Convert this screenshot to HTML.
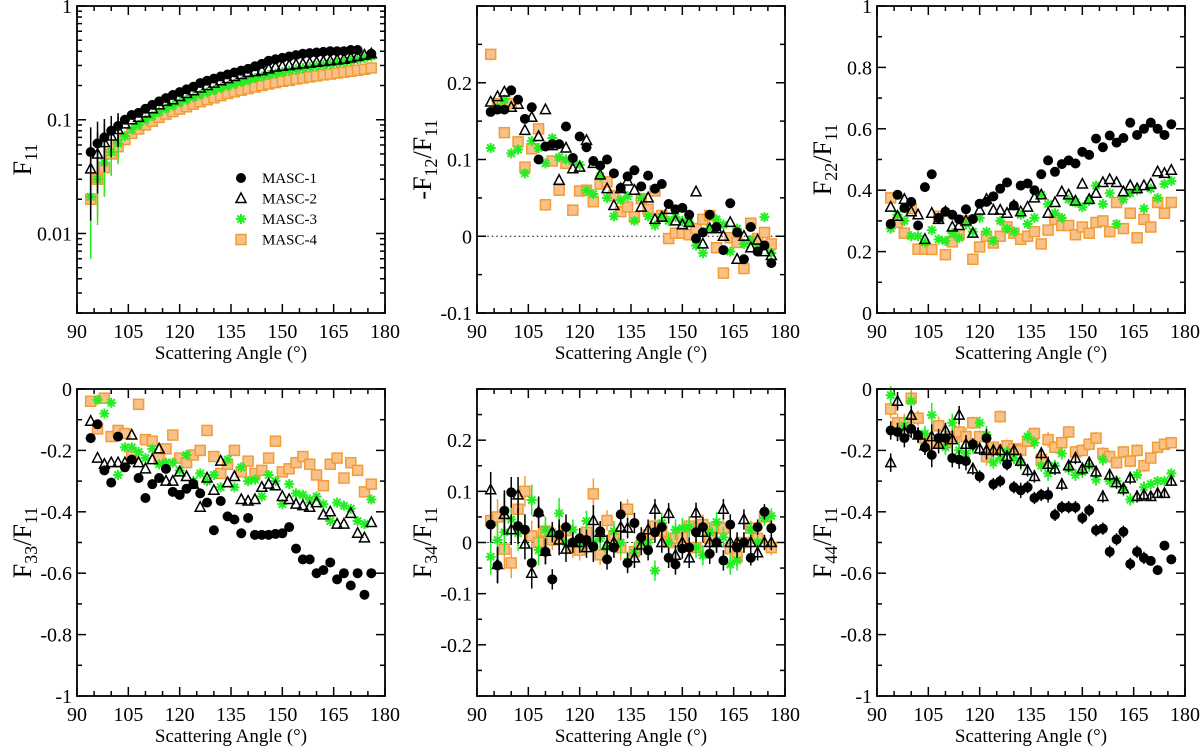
<!DOCTYPE html>
<html><head><meta charset="utf-8"><style>
html,body{margin:0;padding:0;background:#fff;}
svg{display:block;}
text,tspan{font-family:"Liberation Serif","Times New Roman",serif;}
</style></head><body>
<svg id="fig" width="1200" height="747" viewBox="0 0 1200 747" xmlns="http://www.w3.org/2000/svg" font-family="Liberation Serif, serif"></svg>
<script>
const angles=[94,96,98,100,102,104,106,108,110,112,114,116,118,120,122,124,126,128,130,132,134,136,138,140,142,144,146,148,150,152,154,156,158,160,162,164,166,168,170,172,174,176];
const seriesNames=["MASC-1","MASC-2","MASC-3","MASC-4"];
// F11
const f11_m1=[0.052,0.062,0.07,0.08,0.088,0.1,0.11,0.115,0.125,0.135,0.145,0.155,0.165,0.175,0.185,0.195,0.21,0.22,0.23,0.24,0.25,0.26,0.27,0.28,0.295,0.31,0.33,0.34,0.35,0.36,0.37,0.38,0.385,0.39,0.395,0.4,0.4,0.4,0.41,0.41,null,0.38];
const f11_m2=[0.037,0.05,0.063,0.072,0.082,0.092,0.1,0.105,0.115,0.125,0.135,0.145,0.15,0.16,0.17,0.18,0.19,0.2,0.21,0.22,0.23,0.24,0.25,0.26,0.265,0.27,0.28,0.29,0.295,0.3,0.305,0.31,0.315,0.32,0.325,0.33,0.335,0.34,0.35,0.36,0.37,0.38];
const f11_m3=[0.021,0.03,0.042,0.052,0.062,0.072,0.082,0.09,0.1,0.108,0.117,0.125,0.133,0.142,0.15,0.158,0.166,0.174,0.182,0.19,0.198,0.206,0.215,0.223,0.232,0.24,0.248,0.255,0.262,0.27,0.277,0.284,0.29,0.297,0.303,0.31,0.316,0.322,0.33,0.34,0.35,0.36];
const f11_m4=[0.02,0.03,0.038,0.05,0.058,0.067,0.076,0.083,0.09,0.097,0.105,0.112,0.118,0.124,0.13,0.137,0.144,0.15,0.156,0.163,0.17,0.176,0.182,0.188,0.194,0.2,0.206,0.212,0.218,0.222,0.228,0.233,0.238,0.243,0.248,0.252,0.257,0.262,0.267,0.272,0.278,0.285];
// -F12/F11
const f12_m1=[0.162,0.165,0.165,0.19,0.178,0.153,0.168,0.1,0.117,0.12,0.12,0.143,0.102,0.13,0.116,0.098,0.092,0.1,0.082,0.063,0.078,0.086,0.065,0.079,0.062,0.068,0.042,0.035,0.037,0.028,-0.003,0.005,0.028,0.012,-0.018,0.043,0.005,-0.03,0.012,-0.02,-0.012,-0.035];
const f12_m2=[0.175,0.182,0.188,0.168,0.172,0.138,0.155,0.13,0.165,0.118,0.073,0.115,0.088,0.09,0.125,0.095,0.08,0.062,0.04,0.062,0.072,0.06,0.038,0.05,0.022,0.025,0.035,0.02,0.015,0.018,0.058,-0.01,0.01,0.01,0.0,0.018,-0.03,0.0,-0.015,-0.005,-0.02,-0.025];
const f12_m3=[0.115,0.168,0.178,0.108,0.113,0.082,0.124,0.115,0.095,0.128,0.103,0.1,0.098,0.093,0.06,0.055,0.078,0.05,0.026,0.047,0.052,0.02,0.05,0.026,0.014,0.025,0.02,0.025,0.02,0.018,-0.012,-0.022,0.01,0.022,0.015,-0.02,0.01,-0.01,-0.005,-0.015,0.025,-0.022];
const f12_m4=[0.237,0.173,0.135,0.173,0.123,0.09,0.114,0.14,0.041,0.098,0.06,0.095,0.034,0.059,0.06,0.045,0.068,0.071,0.053,0.032,0.038,0.025,0.049,0.035,0.059,0.027,-0.003,0.004,0.004,0.002,0.01,0.022,0.027,-0.015,-0.048,-0.002,-0.008,-0.042,0.017,-0.003,0.005,-0.01];
// F22/F11
const f22_m1=[0.29,0.385,0.342,0.362,0.285,0.41,0.452,0.31,0.33,0.32,0.305,0.338,0.306,0.356,0.362,0.38,0.405,0.425,0.35,0.415,0.422,0.4,0.452,0.497,0.46,0.485,0.497,0.487,0.525,0.515,0.568,0.54,0.578,0.555,0.57,0.62,0.58,0.6,0.62,0.6,0.58,0.615];
const f22_m2=[0.345,0.315,0.37,0.33,0.32,0.24,0.325,0.305,0.33,0.28,0.285,0.3,0.26,0.335,0.37,0.335,0.335,0.325,0.35,0.33,0.345,0.375,0.385,0.325,0.36,0.395,0.385,0.365,0.42,0.37,0.39,0.425,0.435,0.425,0.395,0.415,0.405,0.415,0.42,0.46,0.455,0.465];
const f22_m3=[0.275,0.32,0.3,0.25,0.25,0.23,0.27,0.24,0.235,0.26,0.245,0.29,0.265,0.31,0.265,0.235,0.3,0.275,0.265,0.32,0.29,0.31,0.385,0.355,0.325,0.31,0.37,0.36,0.345,0.365,0.415,0.355,0.39,0.29,0.37,0.39,0.4,0.34,0.405,0.375,0.42,0.43];
const f22_m4=[0.375,0.295,0.26,0.34,0.208,0.208,0.207,0.315,0.19,0.232,0.255,0.3,0.175,0.215,0.25,0.228,0.25,0.28,0.26,0.24,0.25,0.265,0.225,0.27,0.305,0.285,0.285,0.255,0.28,0.26,0.295,0.3,0.265,0.36,0.275,0.325,0.245,0.305,0.28,0.36,0.325,0.36];
// F33/F11
const f33_m1=[-0.16,-0.115,-0.265,-0.305,-0.155,-0.255,-0.23,-0.29,-0.355,-0.31,-0.29,-0.26,-0.335,-0.345,-0.325,-0.31,-0.34,-0.37,-0.46,-0.365,-0.415,-0.425,-0.47,-0.42,-0.475,-0.475,-0.475,-0.472,-0.47,-0.45,-0.52,-0.555,-0.555,-0.6,-0.59,-0.565,-0.62,-0.6,-0.64,-0.6,-0.67,-0.6];
const f33_m2=[-0.105,-0.225,-0.245,-0.24,-0.24,-0.24,-0.15,-0.24,-0.26,-0.23,-0.195,-0.3,-0.3,-0.27,-0.285,-0.31,-0.385,-0.29,-0.33,-0.235,-0.305,-0.285,-0.36,-0.365,-0.36,-0.32,-0.31,-0.315,-0.35,-0.36,-0.375,-0.38,-0.385,-0.37,-0.41,-0.4,-0.44,-0.44,-0.405,-0.47,-0.485,-0.435];
const f33_m3=[-0.16,-0.035,-0.08,-0.045,-0.28,-0.19,-0.19,-0.205,-0.225,-0.195,-0.245,-0.24,-0.24,-0.265,-0.215,-0.3,-0.275,-0.3,-0.28,-0.32,-0.23,-0.32,-0.255,-0.3,-0.295,-0.35,-0.28,-0.3,-0.375,-0.31,-0.34,-0.345,-0.36,-0.35,-0.375,-0.43,-0.37,-0.38,-0.39,-0.43,-0.44,-0.36];
const f33_m4=[-0.04,-0.13,-0.03,-0.155,-0.135,-0.145,-0.22,-0.05,-0.165,-0.17,-0.225,-0.195,-0.15,-0.225,-0.24,-0.215,-0.2,-0.135,-0.22,-0.275,-0.245,-0.2,-0.27,-0.235,-0.275,-0.265,-0.225,-0.17,-0.27,-0.26,-0.24,-0.22,-0.245,-0.28,-0.315,-0.245,-0.225,-0.29,-0.24,-0.265,-0.335,-0.31];
// F34/F11
const f34_m1=[0.035,-0.045,0.062,0.098,0.032,0.025,-0.04,0.058,-0.018,-0.072,0.015,0.03,0.0,0.008,0.005,-0.008,0.022,-0.033,-0.01,0.055,-0.04,0.038,0.01,-0.015,0.02,0.03,-0.03,-0.043,-0.012,-0.01,0.02,0.03,-0.022,0.0,-0.035,0.035,-0.01,0.0,-0.03,0.03,0.06,0.028];
const f34_m2=[0.103,-0.043,0.055,0.025,0.093,-0.003,-0.06,0.06,-0.017,0.02,0.005,-0.013,0.0,0.0,-0.01,0.043,0.02,-0.005,0.0,0.03,0.028,-0.03,-0.005,0.025,0.065,0.0,0.057,-0.025,0.0,-0.03,0.058,0.02,0.0,0.0,0.065,0.0,0.0,0.045,0.0,-0.02,0.0,0.0];
const f34_m3=[-0.028,0.005,0.02,0.045,0.018,0.025,0.083,-0.015,0.025,0.02,0.057,0.0,0.025,0.0,0.042,0.0,0.008,-0.01,0.022,0.0,-0.038,-0.02,0.0,0.0,-0.055,0.038,0.0,0.025,0.028,0.03,-0.01,-0.025,0.02,0.04,0.01,-0.043,-0.035,0.0,0.025,0.0,0.048,0.052];
const f34_m4=[0.043,0.05,-0.013,-0.04,0.065,0.1,0.013,0.0,0.022,0.005,0.008,0.023,-0.01,-0.015,0.02,0.095,-0.024,0.043,0.013,-0.01,0.065,-0.018,0.0,0.015,0.032,0.022,0.0,0.008,0.01,0.032,-0.01,0.035,0.008,0.03,0.028,-0.012,-0.028,0.0,0.028,0.008,0.05,-0.01];
const f34_err=[0.035,0.035,0.04,0.03,0.035,0.03,0.03,0.03,0.025,0.02,0.03,0.025,0.02,0.02,0.02,0.03,0.02,0.02,0.02,0.025,0.02,0.02,0.02,0.02,0.02,0.02,0.02,0.02,0.02,0.02,0.02,0.02,0.02,0.02,0.02,0.02,0.02,0.02,0.015,0.015,0.015,0.015];
// F44/F11
const f44_m1=[-0.135,-0.14,-0.16,-0.13,-0.15,-0.19,-0.215,-0.16,-0.16,-0.225,-0.23,-0.235,-0.18,-0.285,-0.16,-0.31,-0.3,-0.245,-0.32,-0.33,-0.32,-0.355,-0.345,-0.345,-0.41,-0.385,-0.385,-0.385,-0.42,-0.395,-0.46,-0.455,-0.53,-0.49,-0.465,-0.57,-0.53,-0.55,-0.56,-0.59,-0.51,-0.555];
const f44_m2=[-0.24,-0.04,-0.14,-0.085,-0.15,-0.185,-0.155,-0.18,-0.135,-0.165,-0.085,-0.18,-0.26,-0.195,-0.2,-0.2,-0.2,-0.22,-0.2,-0.235,-0.265,-0.285,-0.21,-0.245,-0.26,-0.31,-0.25,-0.225,-0.26,-0.24,-0.27,-0.35,-0.28,-0.305,-0.325,-0.29,-0.35,-0.345,-0.35,-0.34,-0.34,-0.3];
const f44_m3=[-0.02,-0.14,-0.12,-0.04,-0.15,-0.145,-0.085,-0.16,-0.19,-0.11,-0.2,-0.21,-0.19,-0.11,-0.15,-0.24,-0.225,-0.205,-0.225,-0.24,-0.155,-0.175,-0.25,-0.275,-0.25,-0.21,-0.26,-0.28,-0.27,-0.25,-0.295,-0.23,-0.3,-0.3,-0.33,-0.36,-0.28,-0.32,-0.31,-0.3,-0.3,-0.275];
const f44_m4=[-0.065,-0.11,-0.11,-0.03,-0.095,-0.16,-0.175,-0.12,-0.175,-0.155,-0.14,-0.155,-0.11,-0.155,-0.22,-0.19,-0.09,-0.185,-0.195,-0.2,-0.17,-0.145,-0.23,-0.165,-0.19,-0.175,-0.14,-0.205,-0.2,-0.18,-0.16,-0.21,-0.22,-0.24,-0.205,-0.235,-0.2,-0.25,-0.225,-0.19,-0.18,-0.175];
const f44_err=[0.03,0.03,0.03,0.03,0.025,0.025,0.04,0.03,0.025,0.03,0.03,0.03,0.02,0.02,0.03,0.02,0.02,0.02,0.02,0.025,0.02,0.02,0.02,0.025,0.02,0.02,0.02,0.02,0.02,0.02,0.02,0.02,0.02,0.02,0.02,0.02,0.02,0.02,0.015,0.015,0.015,0.015];
const xTicks=[90,105,120,135,150,165,180];

const NS="http://www.w3.org/2000/svg";
const svg=document.getElementById('fig');
const FONT='Liberation Serif, serif';
function mk(tag,attrs,parent){const e=document.createElementNS(NS,tag);for(const k in attrs)e.setAttribute(k,attrs[k]);if(tag==='text')e.setAttribute('font-family',FONT);(parent||svg).appendChild(e);return e;}

const panels=[
 {key:'f11',sub:'11',pre:'F',log:true,ymin:0.002,ymax:1,x0:77,y0:6,data:[f11_m1,f11_m2,f11_m3,f11_m4],err:null,yt:[[1,'1'],[0.1,'0.1'],[0.01,'0.01']]},
 {key:'f12',pre:'-F',sub:'12',ratio:true,ymin:-0.1,ymax:0.3,x0:477,y0:6,data:[f12_m1,f12_m2,f12_m3,f12_m4],major:0.1,minor:0.05,labels:[-0.1,0,0.1,0.2],zero:true},
 {key:'f22',pre:'F',sub:'22',ratio:true,ymin:0,ymax:1,x0:877,y0:6,data:[f22_m1,f22_m2,f22_m3,f22_m4],major:0.2,minor:0.1,labels:[0,0.2,0.4,0.6,0.8,1]},
 {key:'f33',pre:'F',sub:'33',ratio:true,ymin:-1,ymax:0,x0:77,y0:389,data:[f33_m1,f33_m2,f33_m3,f33_m4],major:0.2,minor:0.1,labels:[-1,-0.8,-0.6,-0.4,-0.2,0]},
 {key:'f34',pre:'F',sub:'34',ratio:true,ymin:-0.3,ymax:0.3,x0:477,y0:389,data:[f34_m1,f34_m2,f34_m3,f34_m4],err:f34_err,major:0.1,minor:0.05,labels:[-0.2,-0.1,0,0.1,0.2],zero:true},
 {key:'f44',pre:'F',sub:'44',ratio:true,ymin:-1,ymax:0,x0:877,y0:389,data:[f44_m1,f44_m2,f44_m3,f44_m4],err:f44_err,major:0.2,minor:0.1,labels:[-1,-0.8,-0.6,-0.4,-0.2,0]}
];
const W=308,H=307;
const GREEN='#22ee22',ORF='#f7c189',ORS='#f39c35';

function marker(g,s,cx,cy){
 if(s===0){const e=mk('circle',{cx:cx,cy:cy,r:5,fill:'#000'},g);}
 else if(s===1){const e=mk('polygon',{points:`${cx},${cy-5.5} ${cx-5},${cy+4} ${cx+5},${cy+4}`,fill:'none',stroke:'#000','stroke-width':1.5},g);}
 else if(s===2){const e=mk('path',{d:`M${cx-5} ${cy}H${cx+5}M${cx} ${cy-5}V${cy+5}M${cx-3.6} ${cy-3.6}L${cx+3.6} ${cy+3.6}M${cx-3.6} ${cy+3.6}L${cx+3.6} ${cy-3.6}`,stroke:GREEN,'stroke-width':2},g);}
 else {const e=mk('rect',{x:cx-5,y:cy-5,width:10,height:10,fill:ORF,stroke:ORS,'stroke-width':1.5},g);}
}
const errColors=['#000','#000',GREEN,ORS];

panels.forEach((p,pi)=>{
 const g=mk('g',{});
 
 
 const X=a=>p.x0+(a-90)/90*W;
 const Y=v=>p.log? p.y0+H-(Math.log10(v)-Math.log10(p.ymin))/(Math.log10(p.ymax)-Math.log10(p.ymin))*H : p.y0+H-(v-p.ymin)/(p.ymax-p.ymin)*H;
 for(let a=90;a<=180;a+=5){
  const L=(a%15===0)?9:5;
  mk('line',{x1:X(a),x2:X(a),y1:p.y0+H,y2:p.y0+H-L,stroke:'#000','stroke-width':1.5},g);
  mk('line',{x1:X(a),x2:X(a),y1:p.y0,y2:p.y0+L,stroke:'#000','stroke-width':1.5},g);
 }
 xTicks.forEach(a=>{const t=mk('text',{x:X(a),y:p.y0+H+25,'font-size':20,'text-anchor':'middle'},g);t.textContent=a;});
 const xt=mk('text',{x:p.x0+W/2,y:p.y0+H+46,'font-size':19,'text-anchor':'middle'},g);xt.textContent=pi===3?'Scattering Angle  (°)':'Scattering Angle (°)';
 
 const yt=(v,L)=>{mk('line',{x1:p.x0,x2:p.x0+L,y1:Y(v),y2:Y(v),stroke:'#000','stroke-width':1.5},g);mk('line',{x1:p.x0+W,x2:p.x0+W-L,y1:Y(v),y2:Y(v),stroke:'#000','stroke-width':1.5},g);};
 if(p.log){
  for(let d=-3;d<=0;d++)for(let m=1;m<=9;m++){const v=m*Math.pow(10,d);if(v<p.ymin-1e-9||v>p.ymax+1e-9)continue;yt(v,m===1?9:5);}
  p.yt.forEach(([v,l])=>{const t=mk('text',{x:p.x0-5,y:Y(v)+7,'font-size':20,'text-anchor':'end'},g);t.textContent=l;});
 } else {
  const n=Math.round((p.ymax-p.ymin)/p.minor);
  for(let i=0;i<=n;i++){const v=p.ymin+i*p.minor;const maj=Math.abs(Math.round(v/p.major)*p.major-v)<1e-6;yt(v,maj?9:5);}
  p.labels.forEach(v=>{const t=mk('text',{x:p.x0-5,y:Y(v)+7,'font-size':20,'text-anchor':'end'},g);t.textContent=String(+v.toFixed(2));});
 }
 if(p.zero){const z=mk('line',{x1:X(93),x2:p.x0+W,y1:Y(0),y2:Y(0),stroke:'#000','stroke-width':1,'stroke-dasharray':'1.5,3'},g);}
 const ty=mk('text',{transform:`translate(${p.x0-46},${p.y0+H/2}) rotate(-90)`,'font-size':26,'text-anchor':'middle'},g);
 
 const parts=p.ratio?[[p.pre,0],[p.sub,1],['/F',0],['11',1]]:[[p.pre,0],[p.sub,1]];
 parts.forEach(([s,sub])=>{const ts=mk('tspan',sub?{'font-size':18,dy:6}:{dy:-6},ty);ts.textContent=s;});
 ty.firstChild.setAttribute('dy',0);
 [3,2,1,0].forEach(s=>{
  const arr=p.data[s];
  arr.forEach((v,i)=>{
   if(v===null||v===undefined)return;
   const cx=X(angles[i]),cy=Y(v);
   let e=null;
   if(p.err)e=p.err[i];
   if(p.log&&i<5){const f=[0.65,0.55,0.45,0.35,0.3][i]*(s===2?1.1:1);
     mk('line',{x1:cx,x2:cx,y1:Y(v*(1+f)),y2:Y(v*Math.max(0.1,1-f)),stroke:errColors[s],'stroke-width':1.5},g);}
   if(e){mk('line',{x1:cx,x2:cx,y1:Y(v+e),y2:Y(v-e),stroke:errColors[s],'stroke-width':1.5},g);}
   marker(g,s,cx,cy);
  });
 });
 const fr=mk('rect',{x:p.x0,y:p.y0,width:W,height:H,fill:'none',stroke:'#000','stroke-width':1.8},g);
 
 if(pi===0){
  const lg=mk('g',{},g);
  seriesNames.forEach((n,s)=>{const yy=178+s*20.5;marker(lg,s,241,yy);const t=mk('text',{x:262,y:yy+5,'font-size':15},lg);t.textContent=n;});
 }
});
</script>
</body></html>
